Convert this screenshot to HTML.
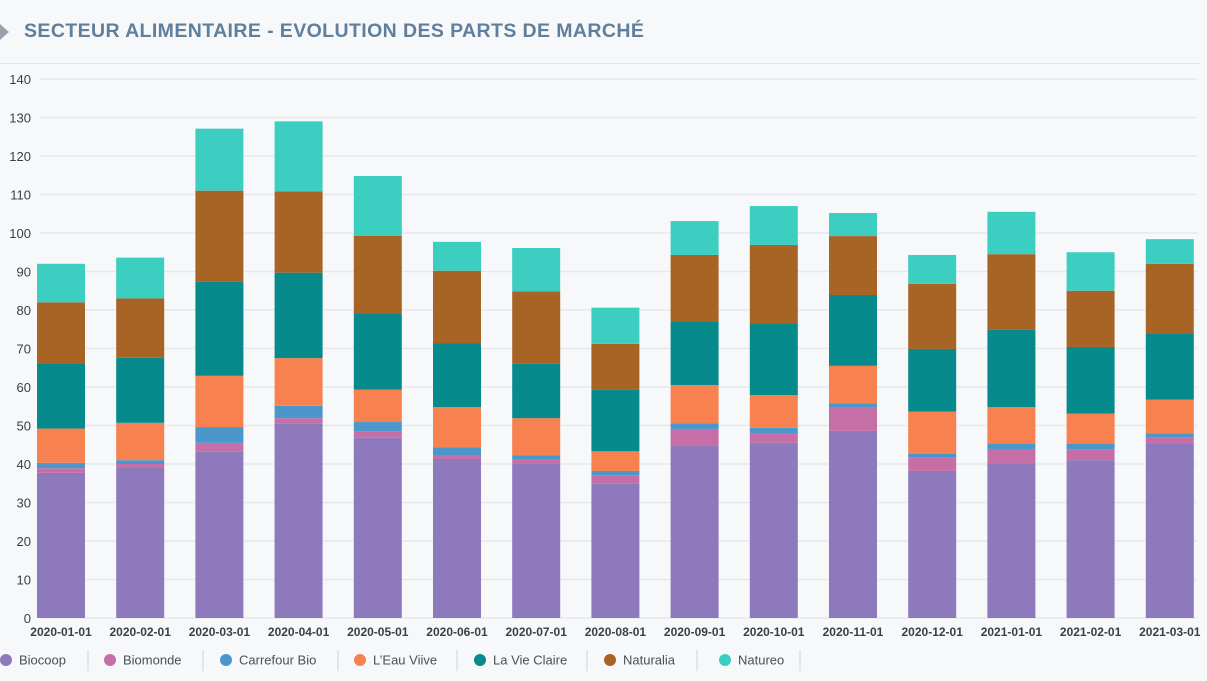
<!DOCTYPE html>
<html><head><meta charset="utf-8"><style>
body{margin:0;background:#f7f8fa;font-family:"Liberation Sans",sans-serif;}
#wrap{position:relative;width:1207px;height:681px;overflow:hidden;background:#f7f8fa;}
#title{position:absolute;left:24px;top:20px;font-size:19.5px;font-weight:bold;color:#5f7f9c;letter-spacing:0.4px;}
#chev{position:absolute;left:0;top:24px;width:0;height:0;border-top:8px solid transparent;border-bottom:8px solid transparent;border-left:9px solid #9aa3ad;}
#hline{position:absolute;left:0;top:63px;width:1200px;height:1px;background:#e3e6ea;}
</style></head><body>
<div id="wrap">
<div id="chev"></div>
<div id="title">SECTEUR ALIMENTAIRE - EVOLUTION DES PARTS DE MARCHÉ</div>
<div id="hline"></div>
<svg id="svg" width="1207" height="681" style="position:absolute;left:0;top:0"></svg>
</div>
<script>
const categories=["2020-01-01","2020-02-01","2020-03-01","2020-04-01","2020-05-01","2020-06-01","2020-07-01","2020-08-01","2020-09-01","2020-10-01","2020-11-01","2020-12-01","2021-01-01","2021-02-01","2021-03-01"];
const seriesNames=["Biocoop","Biomonde","Carrefour Bio","L’Eau Viive","La Vie Claire","Naturalia","Natureo"];
const seriesColors=["#8e79bd","#c56fa6","#4b97cc","#f88150","#078a8c","#a86425","#3dcec2"];
const biocoop=[37.7,39.2,43.2,50.6,46.8,41.3,40.1,35,44.9,45.5,48.6,38.2,40,41,45.2];
const biomonde=[1.2,0.8,2.3,1.3,1.6,0.8,1.1,2.1,4.2,2.4,6.2,3.6,3.9,2.7,1.8];
const carrefourBio=[1.4,1.0,4.1,3.2,2.5,2.2,1.0,1.1,1.5,1.5,0.9,0.9,1.4,1.6,0.9];
const eauVive=[8.9,9.7,13.3,12.4,8.4,10.5,9.7,5.1,9.9,8.5,9.8,10.9,9.5,7.8,8.8];
const vieClaire=[17,16.9,24.4,22.2,19.9,16.5,14.1,16.1,16.5,18.6,18.4,16.3,20.1,17.3,17.3];
const naturalia=[15.8,15.4,23.7,21.1,20.1,18.9,18.8,11.8,17.3,20.4,15.3,16.9,19.6,14.6,18];
const natureo=[10,10.6,16.1,18.2,15.5,7.5,11.3,9.4,8.8,10.1,6,7.5,11,10,6.4];
const yTicks=[0,10,20,30,40,50,60,70,80,90,100,110,120,130,140];
const series=[biocoop,biomonde,carrefourBio,eauVive,vieClaire,naturalia,natureo];

const NS="http://www.w3.org/2000/svg";
const svg=document.getElementById('svg');
const y0=618,y1=79,yMax=140;
const yScale=v=>y0-(v/yMax)*(y0-y1);
const xStart=61,xStep=79.2,bw=48;
const xScale=i=>xStart+i*xStep;
function mk(t,a){const e=document.createElementNS(NS,t);for(const k in a)e.setAttribute(k,a[k]);svg.appendChild(e);return e;}
yTicks.forEach(t=>{
  const l=mk('line',{x1:40,x2:1197,y1:yScale(t),y2:yScale(t),stroke:'#e6e8ec','stroke-width':1.5});
  
  
  const tx=mk('text',{x:31,y:yScale(t)+5,'text-anchor':'end','font-size':13,fill:'#3a3f45','font-family':'Liberation Sans, sans-serif'});
  tx.textContent=t;
  
  
});
categories.forEach((c,i)=>{
  let cum=0;
  series.forEach((s,k)=>{
    const v=s[i];
    const r=mk('rect',{x:xScale(i)-bw/2,y:yScale(cum+v),width:bw,height:yScale(cum)-yScale(cum+v),fill:seriesColors[k]});
    
    
    cum+=v;
  });
  const tx=mk('text',{x:xScale(i),y:636,'text-anchor':'middle','font-size':12,'font-weight':'bold',fill:'#3a3f45','font-family':'Liberation Sans, sans-serif'});
  tx.textContent=c;
  
  
});
const legX=[6,110,226,360,480,610,725];
const sepX=[88,203,338,457,587,697,800];
seriesNames.forEach((n,k)=>{
  const g=mk('g',{});
  
  
  const c=document.createElementNS(NS,'circle');
  c.setAttribute('cx',legX[k]);c.setAttribute('cy',660);c.setAttribute('r',6);c.setAttribute('fill',seriesColors[k]);
  g.appendChild(c);
  const t=document.createElementNS(NS,'text');
  t.setAttribute('x',legX[k]+13);t.setAttribute('y',664.5);t.setAttribute('font-size',13);t.setAttribute('fill','#4a5058');t.setAttribute('font-family','Liberation Sans, sans-serif');
  t.textContent=n;g.appendChild(t);
  const s=mk('line',{x1:sepX[k],x2:sepX[k],y1:650,y2:671,stroke:'#cfd3d8','stroke-width':1});
  
  
});
</script>
</body></html>
